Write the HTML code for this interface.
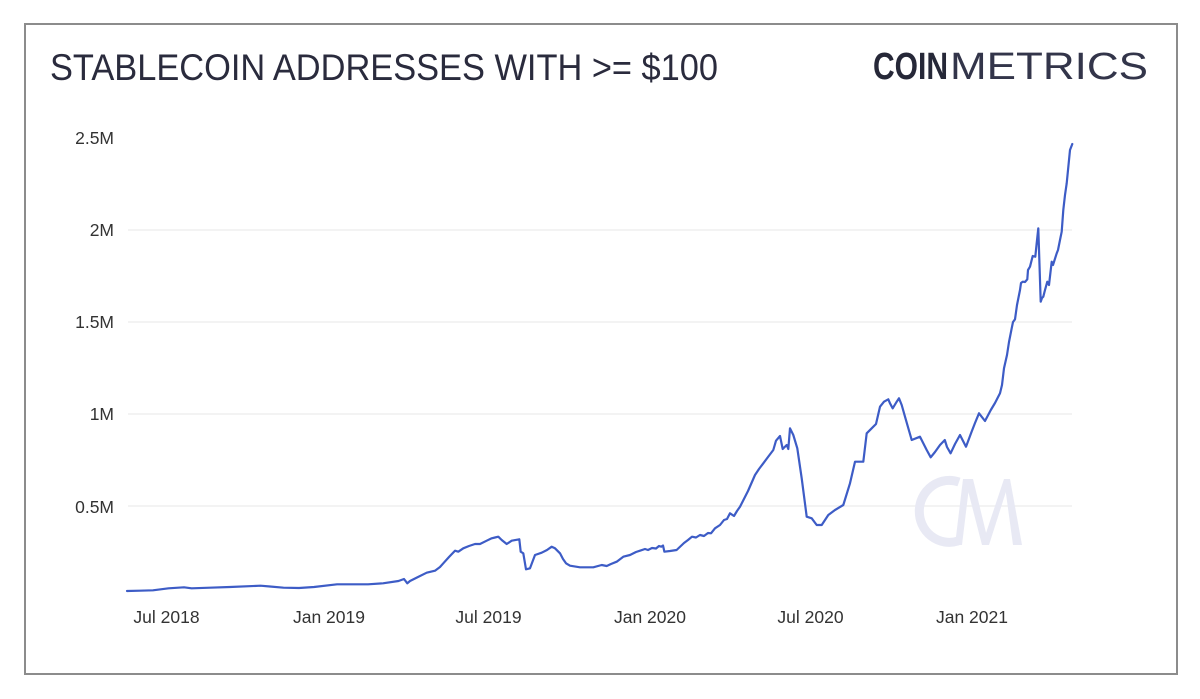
<!DOCTYPE html>
<html>
<head>
<meta charset="utf-8">
<style>
  html,body{margin:0;padding:0;background:#fff;}
  svg{display:block;}
  text{font-family:"Liberation Sans",Arial,sans-serif;}
</style>
</head>
<body>
<svg width="1200" height="699" viewBox="0 0 1200 699" xmlns="http://www.w3.org/2000/svg">
  <rect x="0" y="0" width="1200" height="699" fill="#fff"/>
  <rect x="25" y="24" width="1152" height="650" fill="#fff" stroke="#8c8c8c" stroke-width="2"/>

  <!-- Title -->
  <text x="50" y="80" font-size="37" fill="#2a2b3d" textLength="668" lengthAdjust="spacingAndGlyphs">STABLECOIN ADDRESSES WITH &gt;= $100</text>

  <!-- Logo -->
  <text x="873" y="79" font-size="38" font-weight="bold" fill="#262838" textLength="75" lengthAdjust="spacingAndGlyphs">COIN</text>
  <text x="950" y="79" font-size="38" font-weight="normal" fill="#33354a" textLength="198" lengthAdjust="spacingAndGlyphs">METRICS</text>

  <!-- Gridlines -->
  <g stroke="#ececec" stroke-width="1.2">
    <line x1="128" y1="230" x2="1072" y2="230"/>
    <line x1="128" y1="322" x2="1072" y2="322"/>
    <line x1="128" y1="414" x2="1072" y2="414"/>
    <line x1="128" y1="506" x2="1072" y2="506"/>
  </g>

  <!-- Watermark -->
  <g fill="none" stroke="#e8e9f4">
    <path d="M959,482 A30,31 0 1 0 958,541" stroke-width="9"/>
  </g>
  <g fill="#e8e9f4">
    <polygon points="963,479 970,479 962,545 955,545"/>
    <polygon points="965,479 973,479 989,545 982,545"/>
    <polygon points="982,545 1004,479 1010,479 989,545"/>
    <polygon points="1004,479 1010,479 1022,545 1013,545"/>
  </g>

  <!-- Y labels -->
  <g font-size="17.5" fill="#333" text-anchor="end">
    <text x="114" y="144">2.5M</text>
    <text x="114" y="236">2M</text>
    <text x="114" y="328">1.5M</text>
    <text x="114" y="420">1M</text>
    <text x="114" y="513">0.5M</text>
  </g>

  <!-- X labels -->
  <g font-size="17.5" fill="#333" text-anchor="middle">
    <text x="166.5" y="623">Jul 2018</text>
    <text x="329" y="623">Jan 2019</text>
    <text x="488.5" y="623">Jul 2019</text>
    <text x="650" y="623">Jan 2020</text>
    <text x="810.5" y="623">Jul 2020</text>
    <text x="972" y="623">Jan 2021</text>
  </g>

  <!-- Series -->
  <polyline fill="none" stroke="#3d5cc6" stroke-width="2.2" stroke-linejoin="round" stroke-linecap="round"
    points="127,591 140,590.7 153,590.3 168.6,588.3 184,587.3 191.6,588.3 210,587.7 230,587 260.5,585.7 270,586.5 283.5,587.7 299,588 314,587 337,584.3 368,584.3 383,583.3 398.5,581 404,579 407.3,583.3 410,581 418,577 426.7,572.7 435,570.7 440,567 443.3,563.3 449,557 455,550.7 458.3,551.7 463.3,548.3 469,546 475,544 480,544 486.7,540.7 491.7,538.3 495,537.5 498.3,536.7 501.7,540 506.7,544 511.7,540.7 519.3,539.3 520.7,551.7 523.3,553.3 526,569.3 530,568.3 535,555 541.7,552.7 547,550 551.7,546.7 555,548.3 560,553.3 563,559 566,563.3 570,565.7 580,567.3 593.3,567.3 601.7,565 606.7,566 611,564 616.7,561.7 623.3,556.7 630,555 636,552 640,550.7 645,549 648,550 652,548 656,548.5 659,546 661.3,546.7 663,545.5 664.4,551.7 670,551 676.6,550 684,543 688,540 692,536.7 696,537.5 700,535 704,536 708,533 711,533.3 715,528.3 720,525 724,520 727,519 730,513.3 734,516 737,511 740,506.7 748,491 755,475 759,469 763.3,463.3 768,457 773.3,450 776,440.7 780,436 782.7,449 786.7,445 788.3,449 790,428.3 793.3,435 797.3,448.3 801.7,478.3 806.7,516.7 811.7,518.3 816.7,525 821.7,525 828.3,515 835,510 843.3,505 850,483.3 855,461.7 863.3,461.7 866.7,433.3 871.7,428.3 876,424 880,406.7 884,401.7 888.3,399.3 890,403.3 892.7,408.3 896.7,401.7 899,398.3 901.7,405 905,416.7 911.7,440 920,436.7 926.7,450 930.7,457.3 935,452 940,445 944.8,440 947,447 950.6,453.3 955,444 960,435 966,446.7 971.6,431.7 975,423 979,413.3 985,421 990.8,410 995,403 1000,393.3 1002,385 1004,368.3 1007,355 1009,342 1011.7,328.3 1013,322 1015,319.3 1017,305 1020,290 1021,283 1022.7,281.7 1025,282 1027.3,279.3 1028,270 1030,266.7 1032.7,256 1035.3,256.7 1036.5,245 1038.3,228.3 1040.7,301.7 1042,298 1043.3,296.7 1045,290 1047.3,281.7 1049,285 1051.7,261.7 1053,265 1056.7,253.3 1058,250 1060,240 1061.7,231.7 1063.3,210 1065,195 1066.7,183.3 1070,150 1072.3,144"/>
</svg>
</body>
</html>
